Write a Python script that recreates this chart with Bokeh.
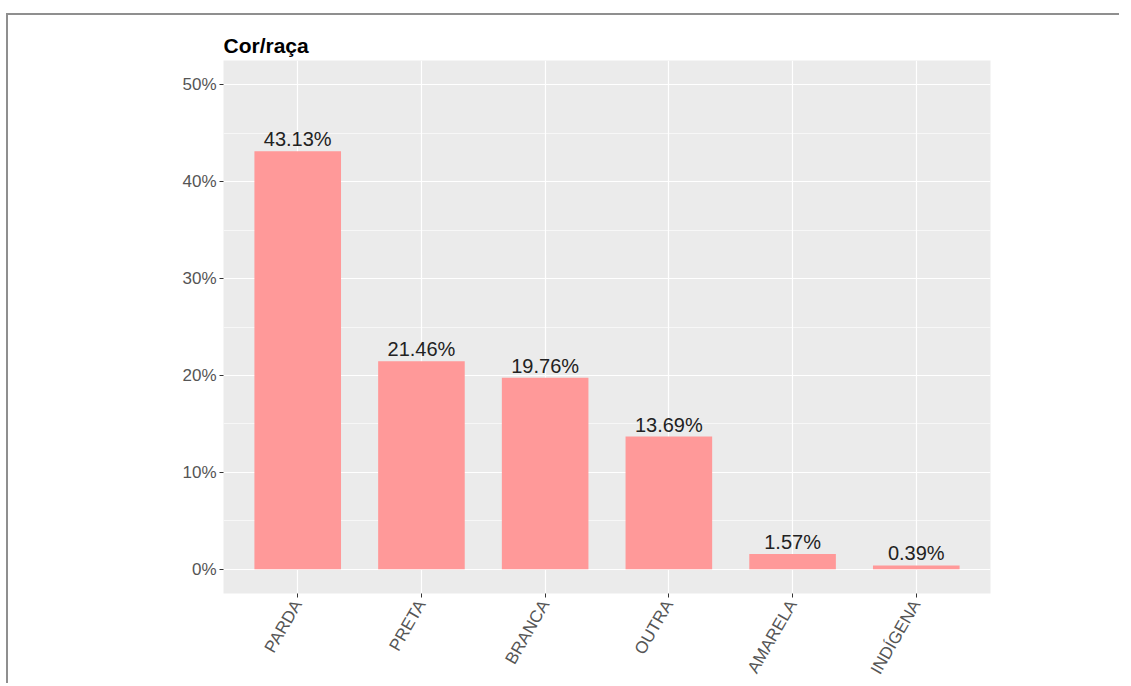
from bokeh.plotting import figure
from bokeh.models import FactorRange, Range1d, FixedTicker, ColumnDataSource
from bokeh.core.properties import value
from bokeh.embed import file_html
from bokeh.resources import INLINE
import math

title = "Cor/raça"
categories = ["PARDA", "PRETA", "BRANCA", "OUTRA", "AMARELA", "INDÍGENA"]
percentages = [43.13, 21.46, 19.76, 13.69, 1.57, 0.39]
y_ticks = [0, 10, 20, 30, 40, 50]
y_minor = [5, 15, 25, 35, 45]

labels = [f"{v:.2f}%" for v in percentages]
src = ColumnDataSource(dict(cat=categories, val=percentages, lab=labels))

p = figure(
    width=1113, height=670,
    x_range=FactorRange(factors=categories, range_padding=0.1, range_padding_units="absolute"),
    y_range=Range1d(-2.5, 52.5),
    output_backend="svg", toolbar_location=None,
    min_border_left=215, min_border_right=131, min_border_top=45, min_border_bottom=87,
    title=title,
)
p.styles = {"border-left": "2px solid #8f8f8f", "border-top": "2px solid #8f8f8f",
            "margin-top": "13px", "margin-left": "6px"}

p.background_fill_color = "#EBEBEB"
p.border_fill_color = "white"
p.outline_line_color = None

p.title.text_font = "Liberation Sans"
p.title.text_font_style = "bold"
p.title.text_font_size = "21px"
p.title.text_color = "black"
p.title.align = "left"
p.title.offset = 0
p.title.standoff = 7

p.vbar(x="cat", top="val", bottom=0, width=0.7, source=src,
       fill_color="#FF9999", line_color=None)
p.text(x="cat", y="val", text="lab", source=src, text_align="center",
       text_baseline="bottom", y_offset=-1,
       text_font=value("Liberation Sans"), text_font_size="20px", text_color="#222222")

p.yaxis.ticker = FixedTicker(ticks=y_ticks, minor_ticks=y_minor)
p.yaxis.major_label_overrides = {t: f"{t}%" for t in y_ticks}
p.yaxis.axis_line_color = None
p.yaxis.major_tick_in = 0
p.yaxis.major_tick_out = 4
p.yaxis.major_tick_line_color = "#333333"
p.yaxis.minor_tick_line_color = None
p.yaxis.major_label_standoff = 3
p.yaxis.major_label_text_font = "Liberation Sans"
p.yaxis.major_label_text_font_size = "17px"
p.yaxis.major_label_text_color = "#555555"

p.xaxis.axis_line_color = None
p.xaxis.major_tick_in = 0
p.xaxis.major_tick_out = 4
p.xaxis.major_tick_line_color = "#333333"
p.xaxis.major_label_orientation = math.pi / 3
p.xaxis.major_label_standoff = 4
p.xaxis.major_label_text_font = "Liberation Sans"
p.xaxis.major_label_text_font_size = "17px"
p.xaxis.major_label_text_color = "#555555"

p.xgrid.grid_line_color = "white"
p.xgrid.grid_line_width = 1.2
p.ygrid.grid_line_color = "white"
p.ygrid.grid_line_width = 1.2
p.ygrid.minor_grid_line_color = "white"
p.ygrid.minor_grid_line_width = 0.6

open("out.html", "w").write(file_html(p, INLINE))
